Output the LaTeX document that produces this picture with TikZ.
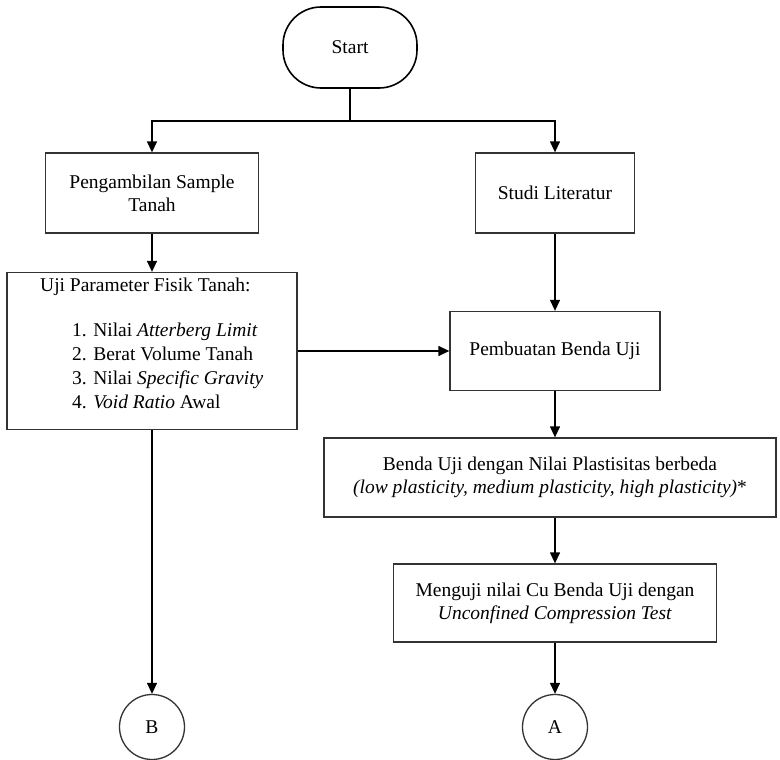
\documentclass[tikz,border=0pt]{standalone}
\usepackage{fontspec}
\setmainfont{Liberation Serif}
\usetikzlibrary{arrows.meta}
\begin{document}
\begin{tikzpicture}[x=1pt,y=-1pt,
  font=\fontsize{19.5}{23}\selectfont,
  box/.style={draw=black!80, line width=1.3pt, align=center, inner sep=0pt},
  arr/.style={draw=black, line width=1.3pt, -{Triangle[length=11pt,width=10pt]}},
  ln/.style={draw=black, line width=1.3pt}]
\useasboundingbox (0,0) rectangle (780,760);
\node[box, line width=1.6pt, draw=black, minimum width=134pt, minimum height=81pt, rounded corners=38pt] (start) at (350,47.5) {Start};
\node[box, minimum width=213pt, minimum height=80pt] (peng) at (152,193) {Pengambilan Sample\\Tanah};
\node[box, minimum width=159pt, minimum height=80pt] (studi) at (555,193) {Studi Literatur};
\node[box, minimum width=290pt, minimum height=157pt] (uji) at (152,351) {};
\node[anchor=base west, inner sep=0pt] (ujih) at (40,291) {Uji Parameter Fisik Tanah:};
\node[anchor=base west, inner sep=0pt] (uji1) at (72,336) {1. Nilai \textit{Atterberg Limit}};
\node[anchor=base west, inner sep=0pt] (uji2) at (72,360) {2. Berat Volume Tanah};
\node[anchor=base west, inner sep=0pt] (uji3) at (72,384) {3. Nilai \textit{Specific Gravity}};
\node[anchor=base west, inner sep=0pt] (uji4) at (72,408) {4. \textit{Void Ratio} Awal};
\node[box, minimum width=210pt, minimum height=79pt] (pemb) at (555,351) {Pembuatan Benda Uji};
\node[box, minimum width=452pt, minimum height=79pt] (plast) at (550,477.5) {Benda Uji dengan Nilai Plastisitas berbeda\\\textit{(low plasticity, medium plasticity, high plasticity)}*};
\node[box, minimum width=323pt, minimum height=78pt] (meng) at (555,603) {Menguji nilai Cu Benda Uji dengan\\\textit{Unconfined Compression Test}};
\node[box, circle, minimum size=65pt] (A) at (555,727) {A};
\node[box, circle, minimum size=65pt] (B) at (152,727) {B};
\coordinate (split) at (350,121);
\draw[ln] (start) -- (split);
\draw[arr] (split) -| (peng);
\draw[arr] (split) -| (studi);
\draw[arr] (peng) -- (uji);
\draw[arr] (studi) -- (pemb);
\draw[arr] (uji) -- (pemb);
\draw[arr] (pemb.south) -- (pemb.south |- plast.north);
\draw[arr] (pemb.south |- plast.south) -- (meng);
\draw[arr] (meng) -- (A);
\draw[arr] (uji) -- (B);
\end{tikzpicture}
\end{document}
